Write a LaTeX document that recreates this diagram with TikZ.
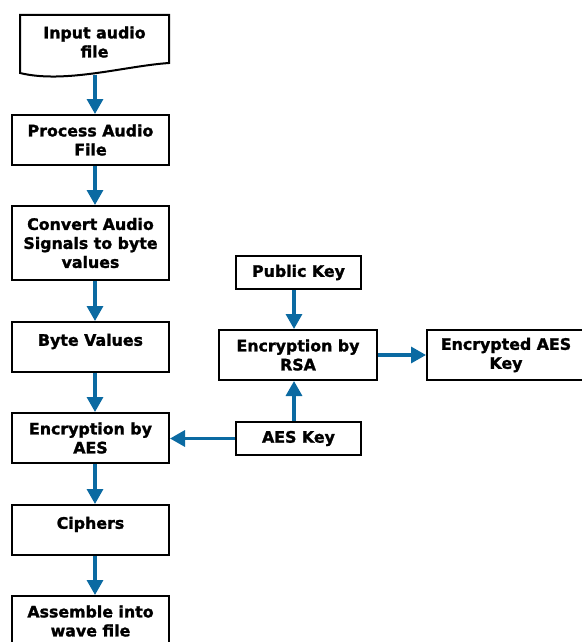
\documentclass[tikz,border=0pt]{standalone}
\usepackage{fontspec}
\setmainfont[BoldFeatures={FakeBold=1.5}]{DejaVu Sans}
\usetikzlibrary{arrows.meta}
\definecolor{arr}{HTML}{0B6AA2}
\begin{document}
\begin{tikzpicture}[x=1pt,y=-1pt,
  txt/.style={align=center, inner sep=0pt, font=\bfseries\fontsize{15.8}{19}\selectfont},
  box/.style={txt, draw=black, line width=2pt, minimum width=157pt, minimum height=50pt},
  kbox/.style={txt, draw=black, line width=2pt, minimum width=125pt, minimum height=33pt},
  topish/.style={text height=11.5pt, text depth=14pt},
  conn/.style={draw=arr, line width=3.3pt, -{Triangle[width=16pt,length=15pt]}}]
\useasboundingbox (0,0) rectangle (581,642);
% document shape
\draw[line width=2pt] (20,15) -- (169,15) -- (169,63) .. controls (125,66) and (65,84) .. (20,73) -- cycle;
\node[txt] (inp) at (94.5,42) {Input audio\\file};
\coordinate (inpb) at (95,75);
% left column
\node[box] (proc) at (90.5,140) {Process Audio\\File};
\node[box, minimum height=74pt] (conv) at (90.5,243) {Convert Audio\\Signals to byte\\values};
\node[box, topish] (byte) at (90.5,347) {Byte Values};
\node[box] (eaes) at (90.5,438) {Encryption by\\AES};
\node[box, topish] (ciph) at (90.5,530) {Ciphers};
\node[box] (asm) at (90.5,621) {Assemble into\\wave file};
% right column
\node[kbox] (pub) at (298.5,272.5) {Public Key};
\node[box, minimum width=158pt] (rsa) at (298,355) {Encryption by\\RSA};
\node[box, minimum width=158pt] (eak) at (506,355) {Encrypted AES\\Key};
\node[kbox] (aes) at (298.5,438.5) {AES Key};
% connectors
\draw[conn] (inpb) -- ([xshift=4.5pt]proc.north);
\draw[conn] ([xshift=4.5pt]proc.south) -- ([xshift=4.5pt]conv.north);
\draw[conn] ([xshift=4.5pt]conv.south) -- ([xshift=4.5pt]byte.north);
\draw[conn] ([xshift=4.5pt]byte.south) -- ([xshift=4.5pt]eaes.north);
\draw[conn] ([xshift=4.5pt]eaes.south) -- ([xshift=4.5pt]ciph.north);
\draw[conn] ([xshift=4.5pt]ciph.south) -- ([xshift=4.5pt]asm.north);
\draw[conn] ([xshift=-4.5pt]pub.south) -- ([xshift=-4pt]rsa.north);
\draw[conn] ([xshift=-4.5pt]aes.north) -- ([xshift=-4pt]rsa.south);
\draw[conn] (aes.west) -- (aes.west -| eaes.east);
\draw[conn] (rsa.east) -- (eak.west);
\end{tikzpicture}
\end{document}
